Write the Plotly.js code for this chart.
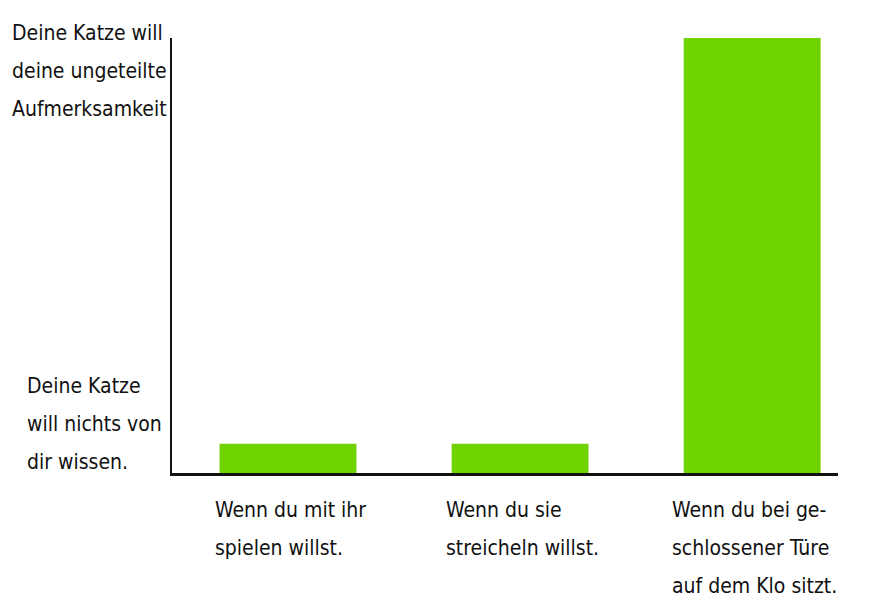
<!DOCTYPE html>
<html>
<head>
<meta charset="utf-8">
<script src="https://cdn.plot.ly/plotly-3.0.1.min.js"></script>
<style>html,body{margin:0;padding:0;background:#fff;}#chart{width:873px;height:609px;}</style>
</head>
<body>
<div id="chart"></div>
<script>
const categories = [
  "Wenn du mit ihr\nspielen willst.",
  "Wenn du sie\nstreicheln willst.",
  "Wenn du bei ge-\nschlossener Türe\nauf dem Klo sitzt."
];
const values = [6.7, 6.7, 100];
const yTickValues = [0, 100];
const yTickLabels = [
  "Deine Katze\nwill nichts von\ndir wissen.",
  "Deine Katze will\ndeine ungeteilte\nAufmerksamkeit"
];

const FONT = "'DejaVu Sans Condensed', 'Liberation Sans Narrow', sans-serif";
const FS = 21;
const LINE = 38;
const ctx = document.createElement('canvas').getContext('2d');
ctx.font = FS + "px " + FONT;
function blockWidth(lines) { return Math.max(...lines.map(l => ctx.measureText(l).width)); }

const annotations = [];
// x labels: left-aligned block, centred under each bar
categories.forEach((lab, i) => {
  const lines = lab.split("\n");
  const w = blockWidth(lines);
  lines.forEach((ln, j) => {
    annotations.push({
      xref: 'x', yref: 'paper', x: i, y: 0,
      xanchor: 'left', yanchor: 'middle',
      xshift: -w / 2, yshift: -37 - j * LINE,
      text: ln, showarrow: false,
      font: {family: FONT, size: FS, color: '#111'}
    });
  });
});
// y labels
const yLeft = [-147, -162];
const yFirst = [87, 5];
yTickLabels.forEach((lab, k) => {
  const lines = lab.split("\n");
  lines.forEach((ln, j) => {
    annotations.push({
      xref: 'paper', yref: 'y', x: 0, y: yTickValues[k],
      xanchor: 'left', yanchor: 'middle',
      xshift: yLeft[k], yshift: yFirst[k] - j * LINE,
      text: ln, showarrow: false,
      font: {family: FONT, size: FS, color: '#111'}
    });
  });
});

const trace = {
  type: 'bar',
  x: categories,
  y: values,
  marker: {color: '#6fd300', line: {width: 0}},
  cliponaxis: false,
  hoverinfo: 'skip'
};

const layout = {
  width: 873, height: 609,
  margin: {l: 172, r: 35, t: 38, b: 136},
  paper_bgcolor: '#fff', plot_bgcolor: '#fff',
  showlegend: false,
  bargap: 0.41,
  xaxis: {
    type: 'category',
    range: [-0.5, 2.37],
    showticklabels: false, ticks: '',
    showgrid: false, zeroline: false,
    showline: true, linecolor: '#111', linewidth: 2.5
  },
  yaxis: {
    range: [0, 100],
    showticklabels: false, ticks: '',
    showgrid: false, zeroline: false,
    showline: true, linecolor: '#111', linewidth: 2.5
  },
  annotations: annotations
};

Plotly.newPlot('chart', [trace], layout, {staticPlot: true, displayModeBar: false});
</script>
</body>
</html>
